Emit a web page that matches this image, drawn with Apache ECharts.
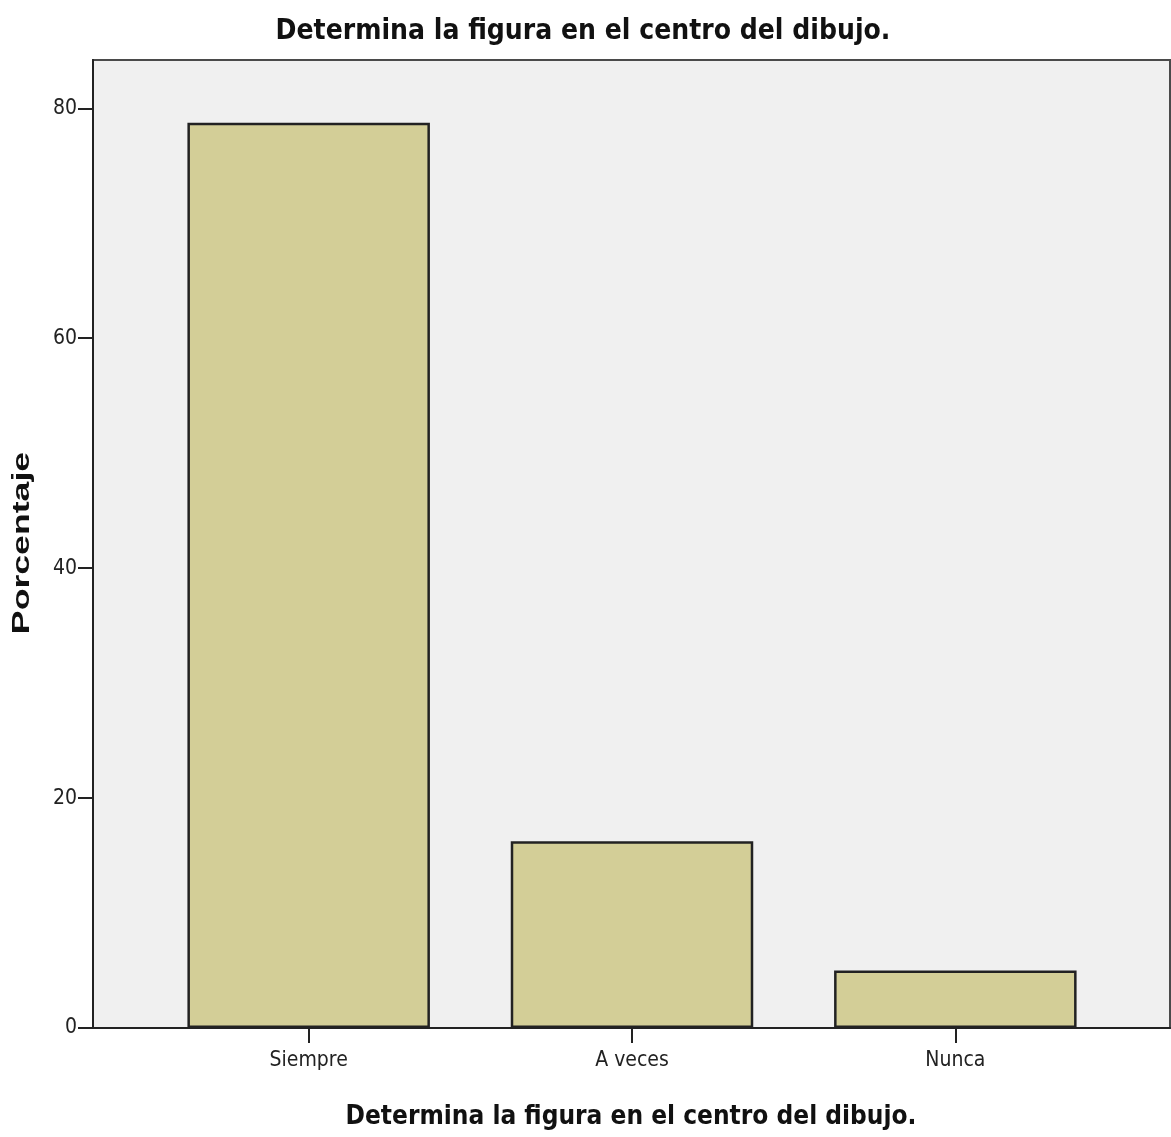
<!DOCTYPE html>
<html>
<head>
<meta charset="utf-8">
<script src="https://cdn.jsdelivr.net/npm/echarts@6/dist/echarts.min.js"></script>
<style>
html,body{margin:0;padding:0;background:#fff;}
#main{width:1171px;height:1137px;}
</style>
</head>
<body>
<div id="main"></div>
<script>
const titleText = 'Determina la figura en el centro del dibujo.';
const xAxisTitle = 'Determina la figura en el centro del dibujo.';
const yAxisTitle = 'Porcentaje';
const categories = ['Siempre', 'A veces', 'Nunca'];
const percentages = [78.75, 16.25, 5.0];
const yTicks = [0, 20, 40, 60, 80];

const NARROW = "'Liberation Sans Narrow', 'Arial Narrow', 'DejaVu Sans Condensed', sans-serif";
const chart = echarts.init(document.getElementById('main'), null, {renderer: 'canvas'});

const option = {
  backgroundColor: '#ffffff',
  animation: false,
  grid: [
    {left: 93, top: 60, right: 1, bottom: 109, show: true, backgroundColor: '#f0f0f0', borderColor: '#4a4a4a', borderWidth: 2},
    {left: 147, top: 60, width: 970, bottom: 109}
  ],
  xAxis: [
    {gridIndex: 0, type: 'value', min: 0, max: 1, axisLine: {show: true, onZero: false, lineStyle: {color: '#222', width: 2}}, axisTick: {show: false}, axisLabel: {show: false}, splitLine: {show: false}},
    {gridIndex: 1, type: 'category', data: categories, axisLine: {show: false}, axisTick: {show: true, alignWithLabel: true, length: 15, lineStyle: {color: '#222', width: 2}},
     axisLabel: {margin: 22, fontFamily: NARROW, fontSize: 21, color: '#222'}}
  ],
  yAxis: [
    {gridIndex: 0, type: 'value', min: 0, max: 84.2, interval: 20,
     axisLine: {show: true, lineStyle: {color: '#222', width: 2}},
     axisTick: {show: true, length: 15, lineStyle: {color: '#222', width: 2}},
     axisLabel: {margin: 16, fontFamily: NARROW, fontSize: 21, color: '#222', showMaxLabel: false,
       formatter: v => (yTicks.indexOf(v) >= 0 ? String(v) : '')},
     splitLine: {show: false}},
    {gridIndex: 1, type: 'value', min: 0, max: 84.2, show: false, splitLine: {show: false}}
  ],
  series: [{
    type: 'bar', xAxisIndex: 1, yAxisIndex: 1, data: percentages, barWidth: '75%',
    itemStyle: {color: '#d3ce97', borderColor: '#222', borderWidth: 2.5}
  }],
  graphic: [
    {type: 'text', x: 583, y: 32, style: {text: titleText, font: "bold 28px " + NARROW, fill: '#111', align: 'center', verticalAlign: 'middle'}},
    {type: 'text', x: 631, y: 1117, style: {text: xAxisTitle, font: "bold 26px " + NARROW, fill: '#111', align: 'center', verticalAlign: 'middle'}},
    {type: 'text', x: 23, y: 543, rotation: Math.PI / 2, scaleX: 1.55, style: {text: yAxisTitle, font: "bold 23px 'Liberation Sans', Arial, sans-serif", fill: '#111', align: 'center', verticalAlign: 'middle'}}
  ]
};
chart.setOption(option);
</script>
</body>
</html>
